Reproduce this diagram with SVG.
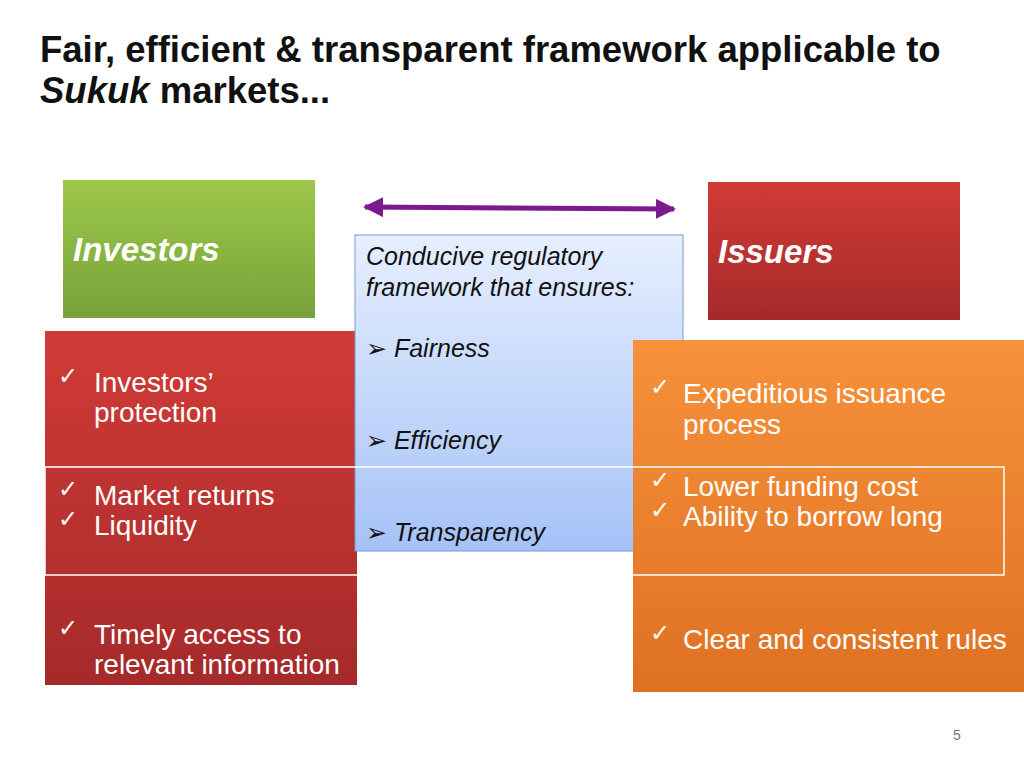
<svg xmlns="http://www.w3.org/2000/svg" width="1024" height="768" viewBox="0 0 1024 768">
<defs>
<linearGradient id="gG" x1="0" y1="0" x2="0" y2="1"><stop offset="0" stop-color="#9dc84a"/><stop offset="1" stop-color="#78a23a"/></linearGradient>
<linearGradient id="gR" x1="0" y1="0" x2="0" y2="1"><stop offset="0" stop-color="#d13b37"/><stop offset="1" stop-color="#a52a2a"/></linearGradient>
<linearGradient id="gB" x1="0" y1="0" x2="0" y2="1"><stop offset="0" stop-color="#e6efff"/><stop offset="1" stop-color="#a5c2f7"/></linearGradient>
<linearGradient id="gO" x1="0" y1="0" x2="0" y2="1"><stop offset="0" stop-color="#f7913a"/><stop offset="1" stop-color="#df7122"/></linearGradient>
<marker id="ah" viewBox="0 0 10 10" refX="9" refY="5" markerWidth="4" markerHeight="4" orient="auto-start-reverse"><path d="M0,0L10,5L0,10z" fill="#7b1a8c"/></marker>
</defs>
<style>
.t{font-family:"Liberation Sans",Arial,sans-serif}
.w{fill:#fff;font-size:28px}
.h{fill:#fff;font-size:33px;font-weight:bold;font-style:italic}
.b{fill:#111;font-size:25px;font-style:italic}
.c{font-family:"DejaVu Sans",sans-serif;fill:#fff;font-size:24px;font-weight:bold}
</style>
<rect width="1024" height="768" fill="#fff"/>
<text class="t" x="40" y="62" font-size="36.5" font-weight="bold" fill="#111">Fair, efficient &amp; transparent framework applicable to</text>
<text class="t" x="40" y="103" font-size="36.5" font-weight="bold" fill="#111"><tspan font-style="italic">Sukuk</tspan> markets...</text>
<g id="investors"><rect x="63" y="180" width="252" height="138" fill="url(#gG)"/><text class="t h" x="73" y="261">Investors</text></g>
<g id="issuers"><rect x="708" y="182" width="252" height="138" fill="url(#gR)"/><text class="t h" x="718" y="263">Issuers</text></g>
<g id="connectors"><line x1="365" y1="207" x2="674" y2="209" stroke="#7b1a8c" stroke-width="5" marker-start="url(#ah)" marker-end="url(#ah)"/></g>
<g id="left"><rect x="45" y="331" width="312" height="354" fill="url(#gR)"/>
<text class="c" x="58" y="384">✓</text><text class="t w" x="94" y="392">Investors’</text><text class="t w" x="94" y="422">protection</text>
<text class="c" x="58" y="497">✓</text><text class="t w" x="94" y="505">Market returns</text>
<text class="c" x="58" y="527">✓</text><text class="t w" x="94" y="535">Liquidity</text>
<text class="c" x="58" y="636">✓</text><text class="t w" x="94" y="644">Timely access to</text><text class="t w" x="94" y="674">relevant information</text></g>
<g id="center"><rect x="355" y="235" width="328" height="316" fill="url(#gB)" stroke="#7a9ad0" stroke-width="1"/>
<text class="t b" x="366" y="265">Conducive regulatory</text><text class="t b" x="366" y="296">framework that ensures:</text>
<text class="t b" x="366" y="357"><tspan font-style="normal">➢</tspan> Fairness</text>
<text class="t b" x="366" y="449"><tspan font-style="normal">➢</tspan> Efficiency</text>
<text class="t b" x="366" y="541"><tspan font-style="normal">➢</tspan> Transparency</text></g>
<g id="right"><rect x="633" y="340" width="391" height="352" fill="url(#gO)"/>
<text class="c" x="650" y="395">✓</text><text class="t w" x="683" y="403">Expeditious issuance</text><text class="t w" x="683" y="434">process</text>
<text class="c" x="650" y="488">✓</text><text class="t w" x="683" y="496">Lower funding cost</text>
<text class="c" x="650" y="518">✓</text><text class="t w" x="683" y="526">Ability to borrow long</text>
<text class="c" x="650" y="641">✓</text><text class="t w" x="683" y="649">Clear and consistent rules</text></g>
<rect x="45" y="467" width="959" height="108" fill="none" stroke="#fff" stroke-width="1.5"/>
<text class="t" x="953" y="740" font-size="14" fill="#777">5</text>
</svg>
